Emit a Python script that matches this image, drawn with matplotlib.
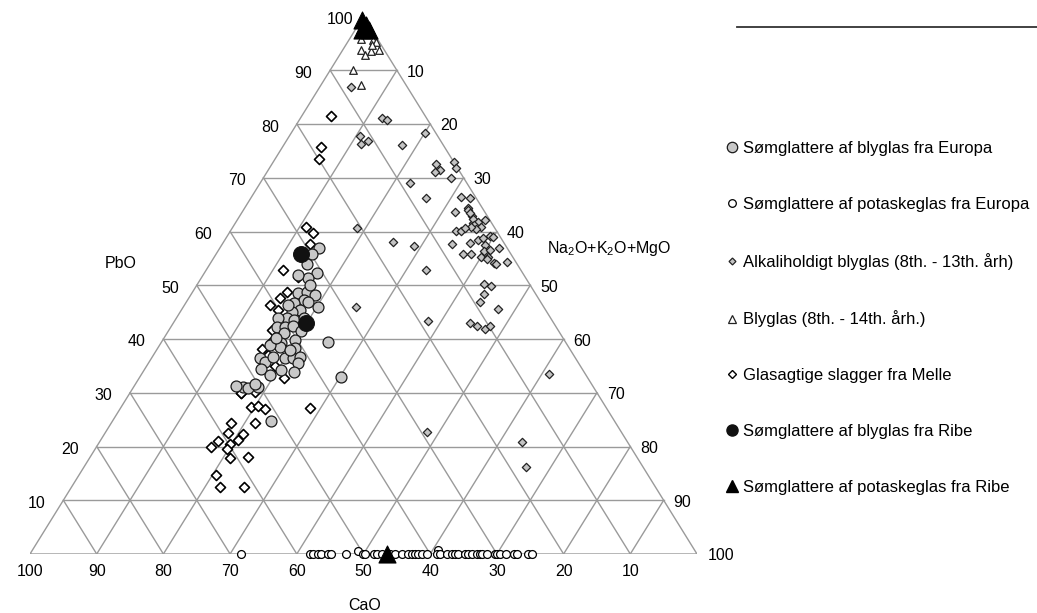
import numpy as np
import matplotlib.pyplot as plt
from matplotlib.lines import Line2D

plt.rcParams['font.family'] = ['Liberation Sans', 'DejaVu Sans']
plt.rcParams['font.size'] = 11.5

# compositions in wt% (PbO, Na2O+K2O+MgO); CaO is the rest
blyglas_pbo = [56.9, 55.8, 54.0, 52.2, 51.3, 51.9, 48.5, 48.8, 48.2, 47.3, 46.7, 46.9, 46.0,
               45.4, 45.1, 43.9, 43.9, 43.5, 42.3, 42.3, 42.4, 41.4, 41.1, 39.8, 39.2, 38.6,
               38.3, 36.4, 36.4, 36.7, 35.6, 36.4, 35.8, 34.5, 36.7, 33.9, 34.2, 31.1, 30.8,
               31.1, 39.5, 32.9, 24.8, 31.3, 31.6, 46.3, 50.0, 38.0, 38.9, 40.2, 43.9, 33.3]
blyglas_alk = [14.9, 14.4, 14.6, 17.0, 16.1, 14.3, 16.0, 17.2, 18.6, 17.4, 16.2, 18.2, 20.2,
               17.8, 16.7, 16.6, 15.3, 17.9, 15.9, 17.1, 18.3, 20.0, 17.5, 19.8, 18.1, 18.2,
               20.6, 20.0, 21.3, 22.1, 22.4, 16.3, 17.3, 17.4, 18.1, 22.7, 20.6, 16.4, 17.3,
               18.6, 25.0, 30.2, 23.8, 15.3, 17.9, 15.5, 17.0, 20.0, 16.6, 16.8, 19.2, 19.3]

potaske_pbo = [0, 0, 0, 0, 0, 0, 0, 0, 0.5, 0, 0, 0, 0, 0, 0, 0, 0, 0, 0, 0, 0, 0, 0,
               0.8, 0, 0, 0, 0, 0, 0, 0, 0, 0, 0, 0, 0, 0, 0, 0, 0, 0, 0, 0, 0, 0]
potaske_alk = [31.7, 42.0, 42.5, 43.2, 43.7, 44.7, 45.2, 47.4, 49.0, 49.9, 50.2, 51.5, 52.0,
               52.7, 54.0, 54.7, 55.7, 56.7, 57.2, 57.7, 58.2, 58.7, 59.5, 60.7, 61.0, 61.5,
               62.5, 63.2, 63.7, 64.2, 65.2, 65.7, 66.2, 67.0, 67.4, 67.7, 68.5, 69.7, 70.0,
               70.5, 71.4, 72.5, 73.0, 74.7, 75.2]

alkali_pbo = [86.8, 81.2, 80.7, 77.8, 76.3, 76.8, 76.1, 78.3, 72.6, 71.4, 71.1, 73.0, 71.8,
              69.9, 69.1, 66.2, 60.6, 66.5, 66.2, 64.3, 63.7, 62.8, 61.5, 64.0, 63.4, 62.3,
              61.8, 61.2, 62.1, 60.9, 60.4, 60.9, 60.1, 60.1, 60.6, 58.1, 57.3, 57.7, 57.9,
              58.4, 58.7, 59.2, 59.0, 55.9, 55.8, 57.5, 56.4, 56.6, 56.9, 55.3, 55.3, 54.8,
              54.2, 54.0, 54.3, 52.8, 50.2, 49.9, 48.3, 46.9, 45.5, 43.4, 42.9, 42.5, 41.8,
              42.4, 45.9, 22.7, 33.5, 20.8, 16.2]
alkali_alk = [4.7, 12.1, 13.2, 10.6, 11.5, 12.3, 17.7, 20.1, 24.6, 25.8, 25.1, 27.0, 27.9,
              28.1, 22.4, 26.3, 18.7, 31.3, 32.9, 33.5, 31.8, 34.8, 35.7, 33.7, 34.3, 35.3,
              36.3, 35.9, 37.1, 37.1, 36.7, 35.6, 33.8, 34.5, 34.9, 25.4, 28.9, 34.4, 37.0,
              38.0, 38.6, 39.4, 39.9, 36.9, 38.2, 39.5, 39.9, 40.7, 41.8, 40.0, 41.0, 41.1,
              42.4, 42.9, 44.3, 33.0, 43.0, 44.2, 43.9, 44.0, 47.4, 38.0, 44.5, 45.8, 47.3,
              47.8, 25.9, 48.2, 61.1, 63.4, 66.3]

blyglas8_pbo = [97.5, 95.9, 93.8, 92.8, 93.5, 95.6, 95.3, 93.8, 94.7, 96.9, 97.2, 90.0, 87.3]
blyglas8_alk = [0.7, 1.7, 2.7, 3.8, 4.3, 3.6, 4.2, 5.4, 3.9, 2.1, 1.4, 3.5, 6.0]

melle_pbo = [57.7, 52.8, 51.6, 48.8, 47.6, 46.3, 45.4, 41.7, 39.5, 38.1, 37.0, 35.0, 33.3,
             32.7, 29.9, 30.2, 60.8, 59.8, 30.0, 27.4, 27.5, 27.0, 27.1, 24.4, 24.4, 22.6,
             22.3, 21.1, 20.0, 20.5, 21.2, 19.5, 17.8, 18.1, 14.7, 12.4, 12.5, 81.4, 75.7, 73.5]
melle_alk = [13.1, 11.6, 14.4, 14.1, 13.7, 12.8, 14.5, 15.4, 16.4, 15.7, 17.2, 19.2, 19.3,
             21.7, 16.7, 18.6, 11.0, 12.5, 16.6, 19.4, 20.4, 21.8, 28.4, 18.0, 21.6, 18.4,
             20.8, 17.7, 17.2, 19.8, 20.6, 19.8, 21.1, 23.6, 20.6, 22.3, 25.8, 4.4, 5.8, 6.6]

ribe_bly_pbo = [55.8, 42.9]
ribe_bly_alk = [12.7, 19.9]

ribe_pot_pbo = [99.3, 98.4, 97.5, 97.5, 0.0]
ribe_pot_alk = [0.2, 1.2, 2.0, 1.1, 53.5]

labels = ["Sømglattere af blyglas fra Europa",
          "Sømglattere af potaskeglas fra Europa",
          "Alkaliholdigt blyglas (8th. - 13th. årh)",
          "Blyglas (8th. - 14th. årh.)",
          "Glasagtige slagger fra Melle",
          "Sømglattere af blyglas fra Ribe",
          "Sømglattere af potaskeglas fra Ribe"]
ticks = list(range(10, 100, 10))


def tern(pbo, alk):
    pbo = np.asarray(pbo, float)
    alk = np.asarray(alk, float)
    return (alk + pbo / 2) / 100, pbo / 100


W, H = 1037, 613
fig = plt.figure(figsize=(W / 100, H / 100), dpi=100)
ax = fig.add_axes([30 / W, (H - 554) / H, 667 / W, 537.5 / H])
ax.set_xlim(0, 1)
ax.set_ylim(0, 1)
ax.axis('off')

gc = '#9a9a9a'
for k in ticks:
    for a, b in [((k, 0), (k, 100 - k)), ((0, k), (100 - k, k)), ((0, 100 - k), (100 - k, 0))]:
        x, y = tern([a[0], b[0]], [a[1], b[1]])
        ax.plot(x, y, color=gc, lw=1.0, zorder=1)
x, y = tern([0, 100, 0, 0], [0, 0, 100, 0])
ax.plot(x, y, color=gc, lw=1.0, zorder=1)

kw = dict(clip_on=False, zorder=3)
x, y = tern(alkali_pbo, alkali_alk)
ax.scatter(x, y, s=18, marker='D', fc='#c4c4c4', ec='#222222', lw=0.9, **kw)
x, y = tern(melle_pbo, melle_alk)
ax.scatter(x, y, s=26, marker='D', fc='white', ec='black', lw=1.2, **kw)
x, y = tern(blyglas8_pbo, blyglas8_alk)
ax.scatter(x, y, s=30, marker='^', fc='white', ec='#222222', lw=0.9, **kw)
x, y = tern(potaske_pbo, potaske_alk)
ax.scatter(x, y, s=32, marker='o', fc='white', ec='black', lw=0.9, **kw)
x, y = tern(blyglas_pbo, blyglas_alk)
ax.scatter(x, y, s=62, marker='o', fc='#c8c8c8', ec='#1a1a1a', lw=0.9, **kw)
x, y = tern(ribe_bly_pbo, ribe_bly_alk)
ax.scatter(x, y, s=130, marker='o', fc='#111111', ec='#111111', lw=0.8, **kw)
x, y = tern(ribe_pot_pbo, ribe_pot_alk)
ax.scatter(x, y, s=150, marker='^', fc='black', ec='black', lw=0.8, **kw)

# tick labels
for k in ticks:
    ax.annotate(str(k), tern(k, 0), xytext=(-18, -3), textcoords='offset pixels',
                ha='right', va='center')
    ax.annotate(str(k), tern(100 - k, k), xytext=(10, -2), textcoords='offset pixels',
                ha='left', va='center')
ax.annotate('100', tern(100, 0), xytext=(-10, -3), textcoords='offset pixels',
            ha='right', va='center')
ax.annotate('100', tern(0, 100), xytext=(11, -2), textcoords='offset pixels',
            ha='left', va='center')
for c in range(100, 0, -10):
    ax.annotate(str(c), tern(0, 100 - c), xytext=(0, -17), textcoords='offset pixels',
                ha='center', va='center')

fig.text(121 / W, 1 - 264 / H, 'PbO', ha='center', va='center')
fig.text(547 / W, 1 - 248 / H, r'$\mathregular{Na_2O{+}K_2O{+}MgO}$', ha='left', va='center')
fig.text(365 / W, 1 - 606 / H, 'CaO', ha='center', va='center')

handles = [
    Line2D([], [], ls='', marker='o', ms=7.5, mfc='#c8c8c8', mec='#1a1a1a', mew=0.9),
    Line2D([], [], ls='', marker='o', ms=5.5, mfc='white', mec='black', mew=0.9),
    Line2D([], [], ls='', marker='D', ms=3.5, mfc='#c4c4c4', mec='#222222', mew=0.9),
    Line2D([], [], ls='', marker='^', ms=5.5, mfc='white', mec='#222222', mew=0.9),
    Line2D([], [], ls='', marker='D', ms=4.2, mfc='white', mec='black', mew=1.0),
    Line2D([], [], ls='', marker='o', ms=8.0, mfc='#111111', mec='#111111'),
    Line2D([], [], ls='', marker='^', ms=8.5, mfc='black', mec='black'),
]
fig.legend(handles, labels, loc='upper left', bbox_to_anchor=(724 / W, 1 - 141 / H),
           frameon=False, numpoints=1, fontsize=12, labelspacing=2.45,
           handlelength=0.9, handletextpad=0.25, borderpad=0, borderaxespad=0)

fig.add_artist(Line2D([737 / W, 1.0], [1 - 27 / H] * 2, transform=fig.transFigure,
                      color='#333333', lw=1.3))

plt.savefig('out.png', dpi=100)
